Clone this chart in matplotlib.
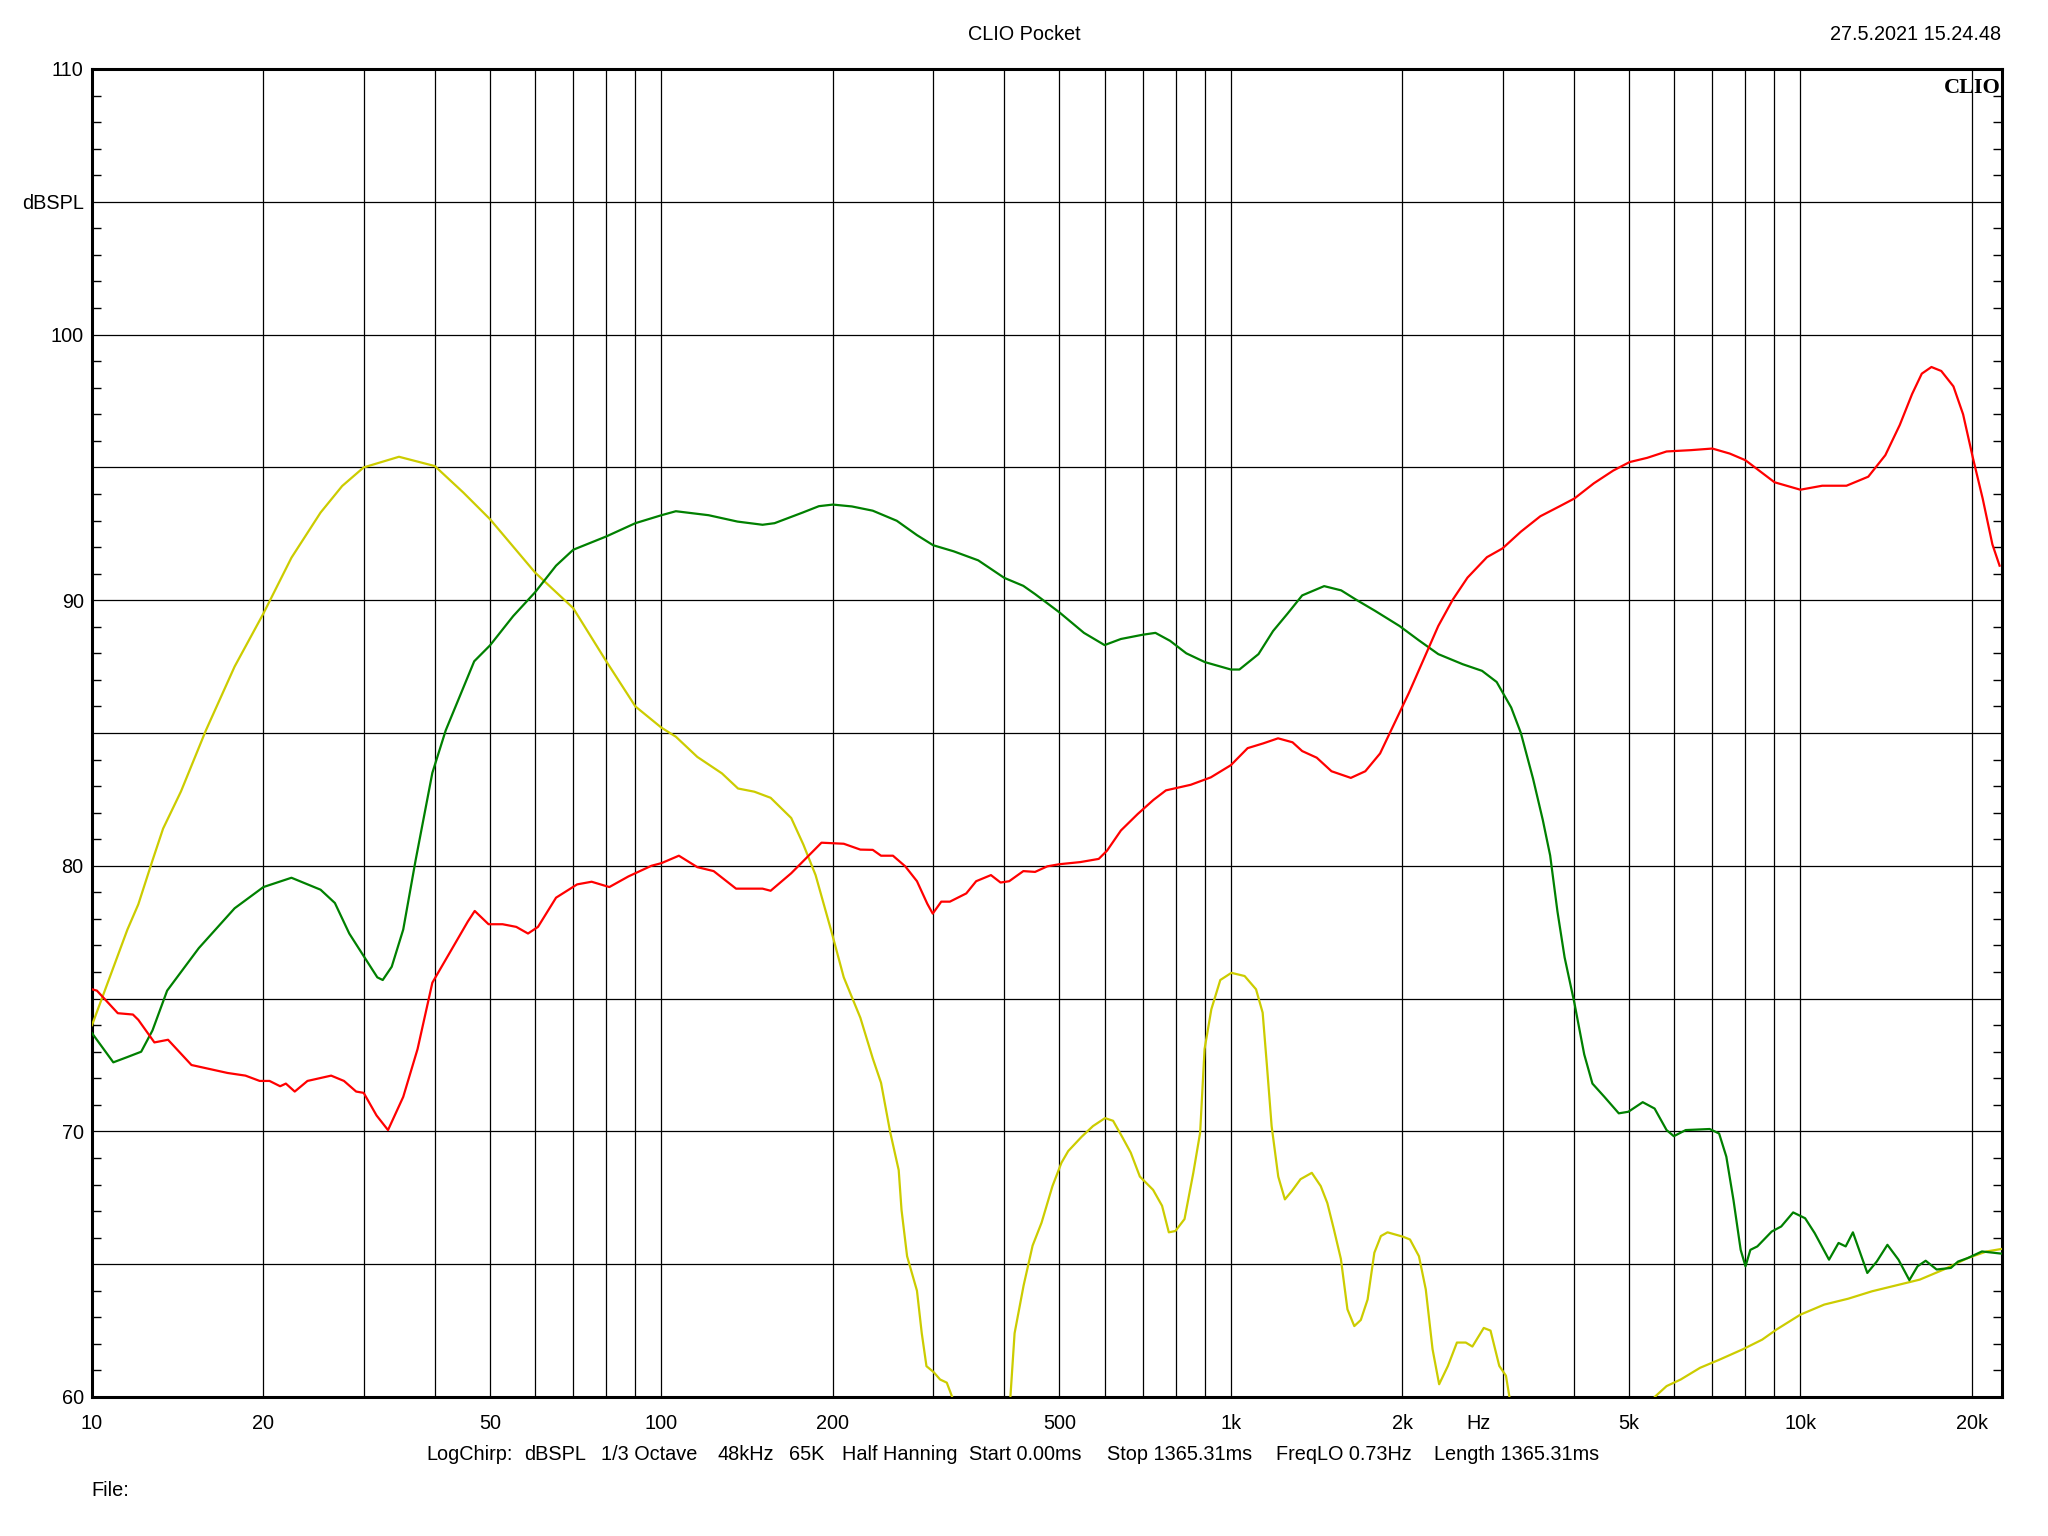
import matplotlib
matplotlib.use("Agg")
import matplotlib.pyplot as plt
import numpy as np

plt.rcParams['font.family'] = ['Liberation Sans', 'DejaVu Sans']

# red trace (Hz, dBSPL)
red_f = [10, 10.2, 11.1, 11.8, 12.06, 12.87, 13.6, 14.95, 17.3, 18.6, 19.7, 20.5, 21.4, 21.9, 22.7,
         23.9, 26.3, 27.7, 29.1, 30, 31.6, 33.1, 35.2, 37.3, 39.6, 42.4, 45.7, 47, 49.7, 52.6,
         55.6, 58.3, 60.7, 65.3, 71.1, 75.4, 81, 87.5, 96, 100, 107.3, 115.6, 123.5, 135.2,
         150.5, 155.5, 169, 183.4, 191, 209, 223.5, 235, 243, 255, 268, 281, 293, 299.5, 310,
         321, 343, 357, 379, 394, 408, 432, 453, 476, 500, 544, 586, 606, 641, 686, 731, 769,
         850, 922, 1000, 1070, 1140, 1210, 1283, 1334, 1415, 1502, 1624, 1722, 1828, 1939,
         2056, 2181, 2313, 2454, 2603, 2816, 2999, 3230, 3494, 3781, 4011, 4338, 4692, 5013,
         5383, 5822, 6427, 7006, 7518, 8009, 8462, 9009, 10000, 10925, 12050, 13160, 14100,
         14950, 15710, 16340, 16990, 17680, 18570, 19310, 20090, 20900, 21740, 22380]
red_db = [75.35, 75.3, 74.45, 74.4, 74.2, 73.35, 73.45, 72.5, 72.2, 72.1, 71.9, 71.9, 71.7, 71.8, 71.5,
          71.9, 72.1, 71.9, 71.5, 71.45, 70.6, 70.05, 71.3, 73.1, 75.6, 76.7, 77.9, 78.3, 77.8, 77.8,
          77.7, 77.45, 77.7, 78.8, 79.3, 79.4, 79.2, 79.6, 80.0, 80.1, 80.38, 79.95, 79.8, 79.14,
          79.14, 79.06, 79.72, 80.49, 80.87, 80.83, 80.61, 80.6, 80.38, 80.38, 79.98, 79.42, 78.57, 78.2, 78.65,
          78.65, 78.96, 79.42, 79.65, 79.37, 79.42, 79.8, 79.77, 79.98, 80.06, 80.14, 80.26, 80.57, 81.33, 81.95, 82.48, 82.84,
          83.05, 83.33, 83.79, 84.43, 84.61, 84.8, 84.65, 84.32, 84.07, 83.56, 83.31, 83.56, 84.23, 85.38,
          86.53, 87.78, 89.03, 90.03, 90.85, 91.62, 91.95, 92.58, 93.16, 93.54, 93.83, 94.4, 94.88, 95.2,
          95.36, 95.6, 95.65, 95.71, 95.52, 95.27, 94.88, 94.44, 94.16, 94.31, 94.31, 94.65, 95.46,
          96.6, 97.76, 98.53, 98.78, 98.63, 98.05, 97.0, 95.36, 93.83, 92.1, 91.3]

# green trace
green_f = [10, 10.9, 11.54, 12.2, 12.77, 13.55, 15.4, 17.8, 20, 22.4, 25.2, 26.7, 28.3, 30, 31.7,
           32.4, 33.6, 35.2, 37, 39.6, 41.8, 46.9, 50, 54.9, 60, 65.3, 70, 80, 90, 100, 106, 121,
           136, 150.5, 158, 177, 189, 200, 216, 235, 259, 281, 300, 326, 360, 400, 432, 453, 500,
           552, 600, 641, 700, 737, 782, 835, 900, 1000, 1035, 1118, 1186, 1258, 1334, 1458, 1562,
           1656, 1791, 1977, 2138, 2313, 2553, 2761, 2929, 3106, 3230, 3394, 3529, 3636, 3745, 3855,
           4011, 4173, 4314, 4528, 4799, 4989, 5287, 5547, 5822, 5995, 6291, 6930, 7200, 7413, 7630,
           7856, 8011, 8170, 8404, 8907, 9255, 9713, 10195, 10597, 11229, 11670, 12012, 12368, 13110,
           13620, 14220, 14870, 15540, 16060, 16600, 17350, 18380, 18920, 19670, 20840, 22500]
green_db = [73.7, 72.6, 72.8, 73.0, 73.8, 75.3, 76.9, 78.4, 79.2, 79.55, 79.1, 78.6, 77.45, 76.6, 75.8,
            75.7, 76.2, 77.6, 80.2, 83.5, 85.1, 87.7, 88.3, 89.4, 90.3, 91.3, 91.9, 92.4, 92.9, 93.2, 93.35, 93.2,
            92.96, 92.84, 92.9, 93.3, 93.54, 93.6, 93.53, 93.37, 92.99, 92.45, 92.07, 91.84, 91.5, 90.84, 90.54, 90.23, 89.54,
            88.77, 88.31, 88.54, 88.7, 88.77, 88.47, 88.0, 87.67, 87.39, 87.39, 87.97, 88.84, 89.5, 90.18, 90.53, 90.37,
            90.03, 89.6, 89.03, 88.49, 87.97, 87.59, 87.34, 86.92, 85.96, 85.0, 83.27, 81.73, 80.39, 78.28, 76.55,
            74.83, 72.9, 71.8, 71.3, 70.68, 70.74, 71.1, 70.86, 70.05, 69.82, 70.05, 70.09, 69.92, 69.05, 67.42,
            65.54, 64.92, 65.54, 65.67, 66.23, 66.42, 66.95, 66.73, 66.17, 65.17, 65.8, 65.67, 66.2, 64.67,
            65.1, 65.73, 65.17, 64.4, 64.92, 65.13, 64.8, 64.86, 65.1, 65.23, 65.48, 65.4]

# yellow trace (drops below the 60 dB floor in two places)
yellow_f = [10, 11.54, 12.06, 12.77, 13.33, 14.33, 15.85, 17.8, 20, 22.4, 25.2, 27.5, 30, 34.6, 40,
            44.9, 50, 60, 70, 80, 90, 100, 106, 115.6, 127.7, 136.3, 145.6, 155.5, 163.5, 169, 177.5,
            186.5, 199, 209, 223.5, 235, 243, 252, 261, 264, 270, 281, 286.5, 292, 300.5, 308.5, 317,
            324, 340, 395, 410, 417, 432.5, 448.5, 465, 486, 504, 518, 547, 572.5, 601, 621, 644, 667,
            692, 730, 757, 778, 799, 829, 859, 883, 899, 924, 958, 1002, 1057, 1107, 1137, 1157, 1179,
            1211, 1244, 1279, 1325, 1387, 1438, 1477, 1517, 1560, 1602, 1647, 1691, 1738, 1786, 1834,
            1884, 2009, 2063, 2139, 2199, 2260, 2321, 2405, 2494, 2585, 2655, 2780, 2857, 2960, 3041,
            3084, 3200, 5300, 5547, 5822, 6166, 6667, 7200, 7930, 8570, 9080, 10000, 11015, 12130,
            13360, 14720, 16210, 17860, 19670, 21240, 22500]
yellow_db = [74.0, 77.6, 78.55, 80.2, 81.4, 82.8, 85.1, 87.5, 89.5, 91.6, 93.3, 94.3, 95.0, 95.4, 95.05,
             94.05, 93.05, 91.04, 89.7, 87.7, 86.0, 85.2, 84.86, 84.1, 83.48, 82.91, 82.79, 82.56, 82.1, 81.8, 80.8,
             79.65, 77.5, 75.8, 74.28, 72.75, 71.83, 70.0, 68.54, 67.04, 65.3, 64.0, 62.4, 61.16, 60.94, 60.66, 60.54,
             60.0, 57, 57, 60, 62.4, 64.2, 65.7, 66.56, 67.94, 68.82, 69.26, 69.8, 70.2, 70.5, 70.4, 69.8, 69.2,
             68.3, 67.8, 67.2, 66.2, 66.25, 66.7, 68.44, 69.95, 73.1, 74.6, 75.7, 75.97, 75.85, 75.35, 74.47, 72.46, 70.2,
             68.3, 67.44, 67.75, 68.2, 68.44, 67.94, 67.3, 66.3, 65.2, 63.3, 62.67, 62.9, 63.67, 65.43, 66.06,
             66.2, 66.03, 65.93, 65.3, 64.05, 61.8, 60.48, 61.17, 62.05, 62.05, 61.9, 62.6, 62.5, 61.17, 60.8,
             60.0, 57, 57, 60, 60.41, 60.66, 61.1, 61.4, 61.8, 62.16, 62.54, 63.1, 63.48, 63.7,
             63.98, 64.2, 64.42, 64.8, 65.23, 65.48, 65.57]

x_ticks = [10, 20, 50, 100, 200, 500, 1000, 2000, 2720, 5000, 10000, 20000]
x_labels = ['10', '20', '50', '100', '200', '500', '1k', '2k', 'Hz', '5k', '10k', '20k']
y_ticks = [60, 65, 70, 75, 80, 85, 90, 95, 100, 105, 110]
y_labels = ['60', '', '70', '', '80', '', '90', '', '100', 'dBSPL', '110']

fs = 14.3

fig = plt.figure(figsize=(20.48, 15.36), dpi=100)
ax = fig.add_axes([92/2048, 1 - 1397/1536, (2002-92)/2048, (1397-69)/1536])
ax.set_xscale('log')
ax.set_xlim(10, 22600)
ax.set_ylim(60, 110)

# grid: every 1..9 per decade, every 5 dB
for dec in [10, 100, 1000, 10000]:
    for m in range(1, 10):
        if 10 < dec * m < 22600:
            ax.axvline(dec * m, color='black', lw=0.9, zorder=1)
for v in range(65, 110, 5):
    ax.axhline(v, color='black', lw=0.9, zorder=1)

ax.plot(yellow_f, yellow_db, color='#cccc00', lw=1.6, zorder=3)
ax.plot(green_f, green_db, color='#008000', lw=1.6, zorder=3)
ax.plot(red_f, red_db, color='#ff0000', lw=1.6, zorder=3)

for s in ax.spines.values():
    s.set_linewidth(2.2)

ax.set_xticks(x_ticks)
ax.set_xticklabels(x_labels)
ax.xaxis.set_minor_locator(matplotlib.ticker.NullLocator())
ax.tick_params(axis='x', length=0, pad=12, labelsize=fs)
ax.set_yticks(y_ticks)
ax.set_yticklabels(y_labels)
ax.set_yticks(np.arange(60, 111, 1), minor=True)
ax.tick_params(axis='y', which='both', direction='in', left=True, right=True,
               labelsize=fs, pad=6)
ax.tick_params(axis='y', which='minor', length=6.5, width=1)
ax.tick_params(axis='y', which='major', length=0)

ax.text(0.9995, 0.993, 'CLIO', transform=ax.transAxes, ha='right', va='top',
        family='Liberation Serif', fontweight='bold', fontsize=16)

fig.text(1024/2048, 1 - 34/1536, 'CLIO Pocket', ha='center', va='center', fontsize=fs)
fig.text(2001/2048, 1 - 34/1536, '27.5.2021 15.24.48', ha='right', va='center', fontsize=fs)

info = [(426, 'LogChirp:'), (524, 'dBSPL'), (601, '1/3 Octave'), (717, '48kHz'), (789, '65K'),
        (842, 'Half Hanning'), (969, 'Start 0.00ms'), (1107, 'Stop 1365.31ms'),
        (1276, 'FreqLO 0.73Hz'), (1434, 'Length 1365.31ms')]
for x, t in info:
    fig.text(x/2048, 1 - 1455/1536, t, ha='left', va='center', fontsize=fs)
fig.text(91/2048, 1 - 1490/1536, 'File:', ha='left', va='center', fontsize=fs)

fig.savefig('out.png', dpi=100)
